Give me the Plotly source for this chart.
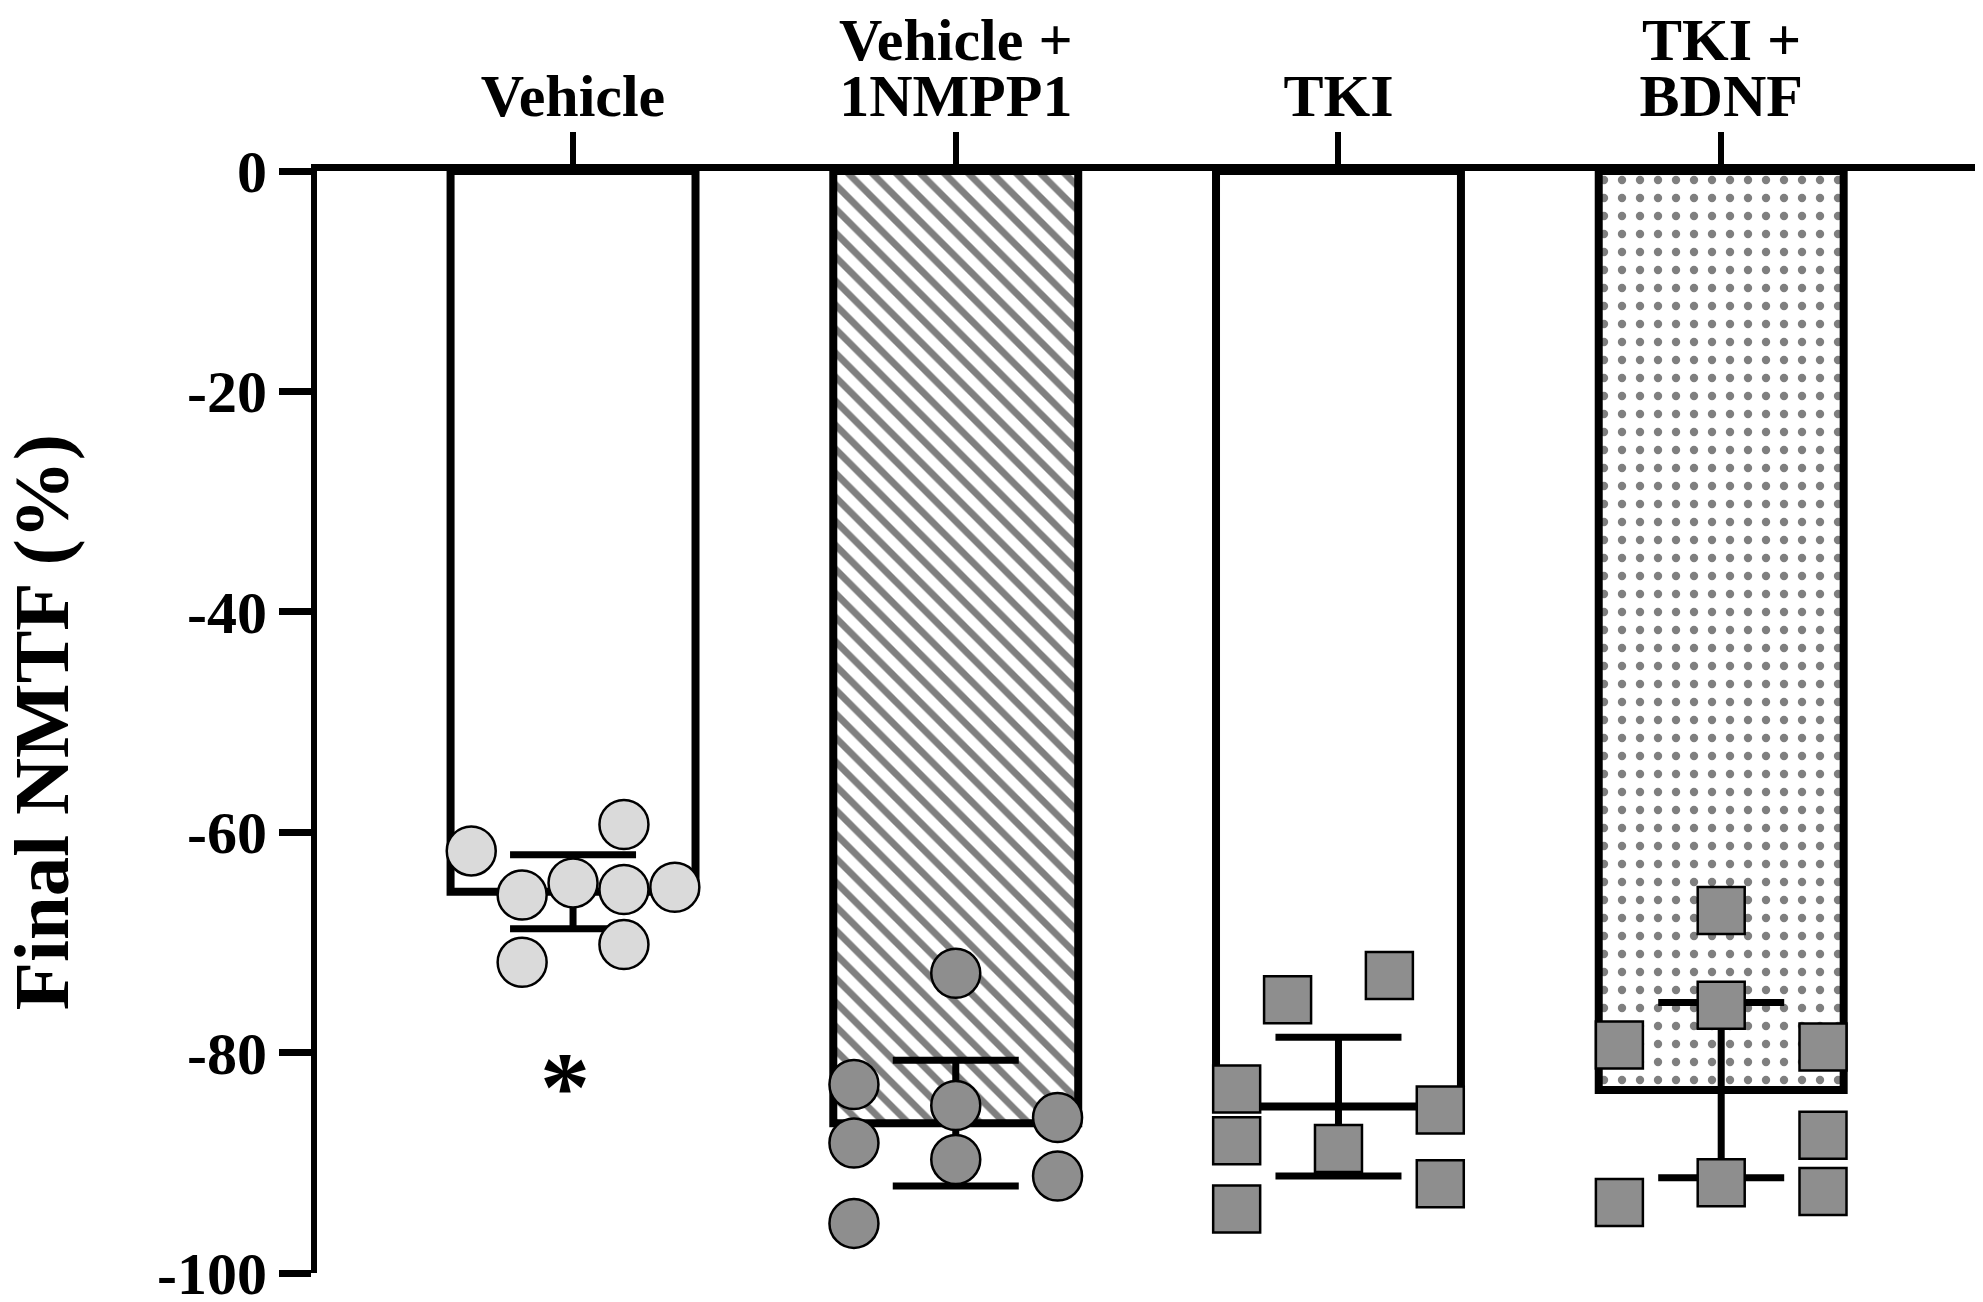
import plotly.graph_objects as go

# groups and summary values
groups = ["Vehicle", "Vehicle + 1NMPP1", "TKI", "TKI + BDNF"]
label_top = ["", "Vehicle +", "", "TKI +"]
label_bottom = ["Vehicle", "1NMPP1", "TKI", "BDNF"]
means = [-65.4, -86.4, -84.9, -83.4]
sems = [3.35, 5.7, 6.3, 7.95]

y_ticks = [0, -20, -40, -60, -80, -100]
y_ticktext = ["0", "-20", "-40", "-60", "-80", "-100"]

# individual animals
vehicle = [-61.7, -59.3, -65.7, -64.6, -65.2, -65.0, -71.8, -70.2]
vehicle_nmpp = [-72.8, -82.9, -88.2, -95.5, -84.8, -89.7, -85.9, -91.2]
tki = [-75.2, -73.0, -83.3, -88.0, -94.2, -88.7, -85.2, -91.9]
tki_bdnf = [-67.1, -75.7, -79.3, -79.5, -87.5, -92.6, -91.8, -93.6]

# horizontal slot of each dot inside its column (scatter-dot layout)
slots_vehicle = [-2, 1, -1, 0, 1, 2, -1, 1]
slots_vehicle_nmpp = [0, -2, -2, -2, 0, 0, 2, 2]
slots_tki = [-1, 1, -2, -2, -2, 0, 2, 2]
slots_tki_bdnf = [0, 0, -2, 2, 2, 2, 0, -2]

FONT = "Liberation Serif"
slot_w = 0.133

fig = go.Figure()

fig.add_trace(go.Bar(
    x=list(range(len(groups))), y=means, width=0.64,
    marker=dict(
        color="white",
        line=dict(color="black", width=8),
        pattern=dict(shape=["", "\\", "", "."], fgcolor="black", bgcolor="white",
                     size=[17, 17, 17, 18], solidity=[0.4, 0.4, 0.4, 0.17]),
    ),
    error_y=dict(type="data", array=sems, visible=True, color="black",
                 thickness=7, width=63),
))

dots = [
    (0, vehicle, slots_vehicle, "circle", "#dadada"),
    (1, vehicle_nmpp, slots_vehicle_nmpp, "circle", "#8e8e8e"),
    (2, tki, slots_tki, "square", "#8e8e8e"),
    (3, tki_bdnf, slots_tki_bdnf, "square", "#8e8e8e"),
]
for i, vals, slots, sym, col in dots:
    fig.add_trace(go.Scatter(
        x=[i + s * slot_w for s in slots], y=vals, mode="markers",
        marker=dict(symbol=sym, size=49 if sym == "circle" else 47, color=col,
                    line=dict(color="black", width=2.5)),
        cliponaxis=False,
    ))

# upper lines of the two-line group names
for i, t in enumerate(label_top):
    if t:
        fig.add_annotation(x=i, y=1.119, xref="x", yref="paper", text=t,
                           showarrow=False, yanchor="middle",
                           font=dict(family=FONT, size=60, color="black", weight="bold"))

fig.add_annotation(x=-0.02, y=-83.1, xref="x", yref="y", text="*", showarrow=False,
                   font=dict(family=FONT, size=100, color="black", weight="bold"))

# y axis title as a rotated annotation so it can sit close to the page edge
fig.add_annotation(x=-0.166, y=0.5, xref="paper", yref="paper", text="Final NMTF (%)",
                   textangle=-90, showarrow=False, xanchor="center", yanchor="middle",
                   font=dict(family=FONT, size=79, color="black", weight="bold"))

# the page body adds an 8 px margin, so the figure is 8 px smaller
fig.update_layout(
    width=1975, height=1294,
    margin=dict(l=309, r=5, t=163, b=29),
    plot_bgcolor="white", paper_bgcolor="white",
    showlegend=False,
    font=dict(family=FONT, color="black"),
    xaxis=dict(
        range=[-0.669, 3.671], side="top", automargin=False,
        tickvals=list(range(len(groups))), ticktext=label_bottom,
        ticks="outside", ticklen=32, tickwidth=6, tickcolor="black",
        ticklabelstandoff=-8,
        showline=True, linewidth=7, linecolor="black",
        showgrid=False, zeroline=False,
        tickfont=dict(family=FONT, size=60, color="black", weight="bold"),
    ),
    yaxis=dict(
        range=[-100, 0], automargin=False,
        tickvals=y_ticks, ticktext=y_ticktext, ticklabeloverflow="allow",
        ticks="outside", ticklen=32, tickwidth=7, tickcolor="black",
        showline=True, linewidth=6, linecolor="black",
        showgrid=False, zeroline=False,
        tickfont=dict(family=FONT, size=60, color="black", weight="bold"),
    ),
)

fig.write_html("out.html")
